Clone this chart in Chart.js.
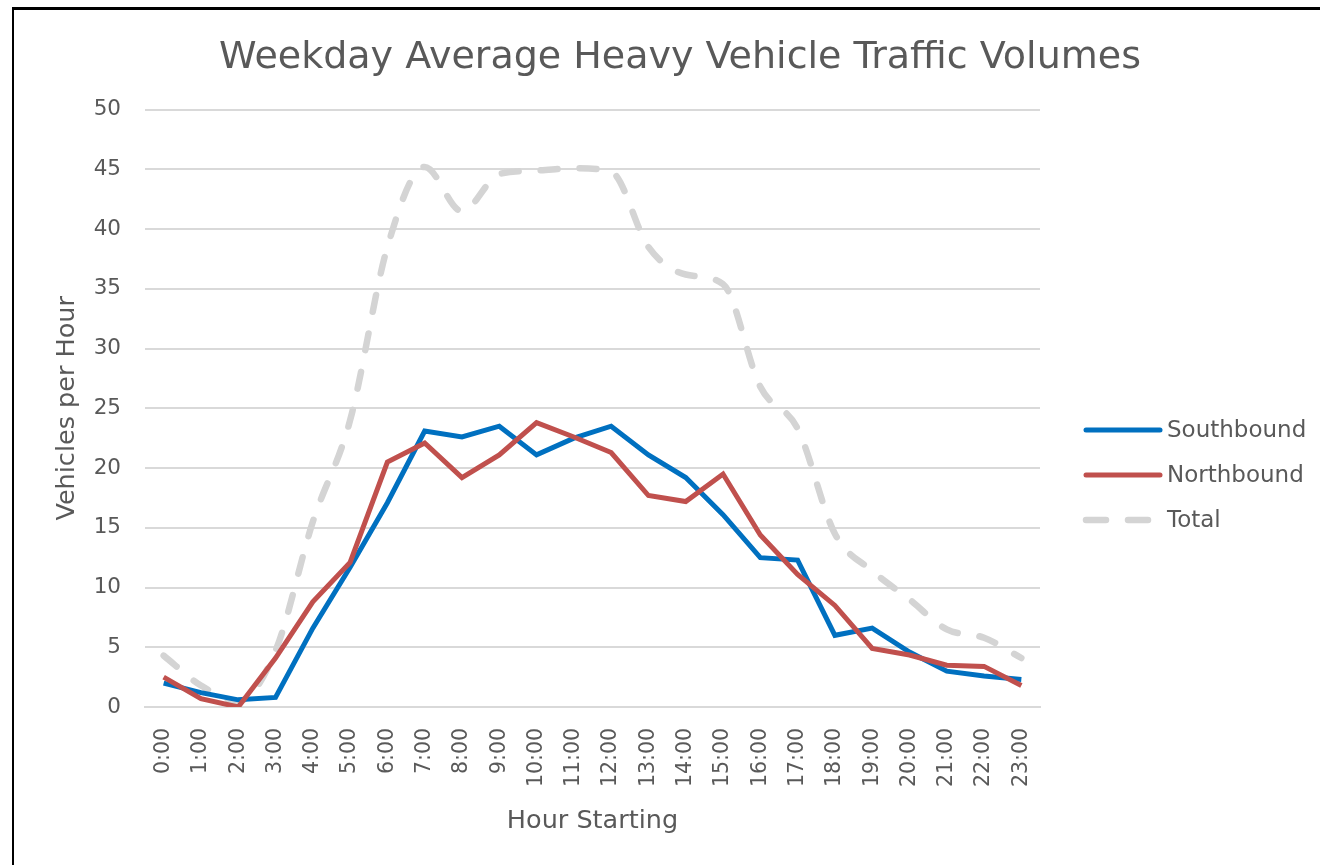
<!DOCTYPE html>
<html>
<head>
<meta charset="utf-8">
<script src="https://cdn.jsdelivr.net/npm/chart.js@4/dist/chart.umd.min.js"></script>
<style>
    html, body { margin: 0; padding: 0; background: #fff; }
    #wrap { position: relative; width: 1320px; height: 865px; overflow: hidden; }
    #frame { position: absolute; left: 12px; top: 7px; width: 1400px; height: 1000px;
             border-top: 3px solid #000; border-left: 2px solid #000; box-sizing: border-box; pointer-events: none; }
    canvas { position: absolute; left: 0; top: 0; }
</style>
</head>
<body>
<div id="wrap">
    <canvas id="traffic-chart" width="1320" height="865"></canvas>
    <div id="frame"></div>
</div>
<script>
// hourly weekday averages
const hours = ['0:00', '1:00', '2:00', '3:00', '4:00', '5:00', '6:00', '7:00', '8:00', '9:00', '10:00', '11:00',
    '12:00', '13:00', '14:00', '15:00', '16:00', '17:00', '18:00', '19:00', '20:00', '21:00', '22:00', '23:00'];
const southbound = [2.0, 1.2, 0.6, 0.8, 6.6, 11.7, 17.1, 23.1, 22.6, 23.5, 21.1, 22.5,
    23.5, 21.1, 19.2, 16.1, 12.5, 12.3, 6.0, 6.6, 4.6, 3.0, 2.6, 2.3];
const northbound = [2.5, 0.7, 0.0, 4.1, 8.8, 12.1, 20.5, 22.1, 19.2, 21.1, 23.8, 22.6,
    21.3, 17.7, 17.2, 19.5, 14.4, 11.1, 8.5, 4.9, 4.35, 3.5, 3.4, 1.8];
const total = [4.3, 1.8, 0.5, 4.7, 15.5, 24.0, 38.5, 45.2, 41.5, 44.6, 44.9, 45.1,
    44.8, 38.5, 36.2, 35.4, 26.8, 23.3, 14.5, 11.4, 9.0, 6.5, 5.8, 4.1];
const yTicks = [0, 5, 10, 15, 20, 25, 30, 35, 40, 45, 50];

const textColor = '#595959';
const fontFamily = '"DejaVu Sans", sans-serif';

// legend drawn by hand so it sits where the original has it
const sideLegend = {
    id: 'sideLegend',
    afterDraw(chart) {
        const ctx = chart.ctx;
        const x0 = 1086, x1 = 1160, top = 430, gap = 45;
        ctx.save();
        chart.data.datasets.forEach((ds, i) => {
            const y = top + i * gap;
            ctx.beginPath();
            ctx.strokeStyle = ds.borderColor;
            ctx.lineWidth = ds.borderWidth;
            ctx.lineCap = 'round';
            ctx.setLineDash(ds.borderDash ? [20, 22] : []);
            ctx.moveTo(x0, y);
            ctx.lineTo(x1, y);
            ctx.stroke();
            ctx.setLineDash([]);
            ctx.fillStyle = textColor;
            ctx.font = '23px ' + fontFamily;
            ctx.textBaseline = 'middle';
            ctx.fillText(ds.label, 1167, y + 1);
        });
        ctx.restore();
    }
};

new Chart(document.getElementById('traffic-chart'), {
    type: 'line',
    data: {
        labels: hours,
        datasets: [
            { label: 'Southbound', data: southbound, borderColor: '#0070C0', borderWidth: 5, pointRadius: 0, tension: 0, order: 2 },
            { label: 'Northbound', data: northbound, borderColor: '#C0504D', borderWidth: 5, pointRadius: 0, tension: 0, order: 1 },
            { label: 'Total', data: total, borderColor: '#D4D4D4', borderWidth: 6.5, borderDash: [17, 22],
              borderCapStyle: 'round', pointRadius: 0, cubicInterpolationMode: 'monotone', order: 3 }
        ]
    },
    options: {
        responsive: false,
        animation: false,
        layout: { padding: { left: 40, right: 0, top: 8, bottom: 0 } },
        plugins: {
            legend: { display: false },
            tooltip: { enabled: false },
            title: {
                display: true,
                text: 'Weekday Average Heavy Vehicle Traffic Volumes',
                color: textColor,
                font: { family: fontFamily, size: 38, weight: 'normal' },
                padding: { top: 27, bottom: 29 }
            }
        },
        scales: {
            x: {
                offset: true,
                grid: { display: false, offset: true },
                border: { color: '#D9D9D9', width: 2 },
                ticks: {
                    color: textColor, font: { family: fontFamily, size: 20.5 },
                    minRotation: 90, maxRotation: 90, autoSkip: false, padding: 13
                },
                title: { display: true, text: 'Hour Starting', color: textColor,
                         font: { family: fontFamily, size: 25.5 }, padding: { top: 0, bottom: 28 } },
                afterFit(scale) { scale.height = 158; }
            },
            y: {
                min: 0, max: 50,
                afterBuildTicks(scale) { scale.ticks = yTicks.map(v => ({ value: v })); },
                grid: { color: '#D9D9D9', lineWidth: 2, drawTicks: false },
                border: { display: false },
                ticks: { color: textColor, font: { family: fontFamily, size: 21.5 }, padding: 24 },
                title: { display: true, text: 'Vehicles per Hour', color: textColor,
                         font: { family: fontFamily, size: 25.5 }, padding: { top: 12, bottom: 0 } },
                afterFit(scale) { scale.width = 105; }
            },
            // empty box on the right that keeps room for the legend
            spacer: {
                type: 'linear',
                position: 'right',
                display: true,
                grid: { display: false },
                border: { display: false },
                ticks: { display: false },
                afterFit(scale) { scale.width = 280; }
            }
        }
    },
    plugins: [sideLegend]
});
</script>
</body>
</html>
